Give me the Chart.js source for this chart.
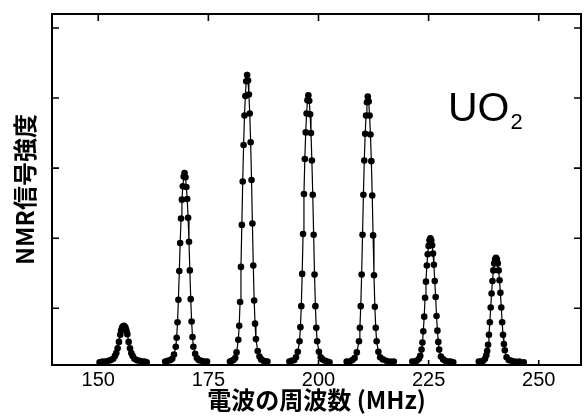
<!DOCTYPE html>
<html><head><meta charset="utf-8">
<script src="https://cdn.jsdelivr.net/npm/chart.js@4"></script>
<style>html,body{margin:0;padding:0;background:#fff}</style>
</head><body>
<canvas id="c" width="585" height="416"></canvas>
<script>
// ---- data ----
const xTicks = [150, 175, 200, 225, 250];
const yTicks = [0.77, 1.77, 2.77, 3.77, 4.77];
const xLabel = "電波の周波数 (MHz)";
const yLabel = "NMR信号強度";
const sampleLabel = "UO";
const sampleSub = "2";

const peak1Freq = [150.3,151.0,151.7,152.3,152.9,153.4,153.8,154.1,154.4,154.7,155.0,155.2,155.4,155.6,155.8,156.0,156.2,156.4,156.6,156.9,157.2,157.5,157.8,158.2,158.7,159.3,159.9,160.5,161.0];
const peak1Int  = [0.00,0.01,0.01,0.02,0.03,0.05,0.09,0.13,0.20,0.29,0.39,0.45,0.49,0.51,0.52,0.51,0.49,0.45,0.40,0.29,0.20,0.13,0.09,0.05,0.03,0.02,0.01,0.01,0.00];

const peak2Freq = [165.2,165.8,166.4,166.8,167.2,167.6,167.8,168.0,168.2,168.4,168.6,168.8,169.0,169.2,169.4,169.6,169.8,170.0,170.2,170.4,170.6,170.8,171.0,171.2,171.4,171.6,172.0,172.4,172.8,173.4,174.0,174.7];
const peak2Int  = [0.01,0.02,0.03,0.05,0.11,0.22,0.35,0.57,0.89,1.30,1.70,2.05,2.32,2.51,2.65,2.70,2.64,2.50,2.33,2.06,1.72,1.31,0.90,0.58,0.36,0.22,0.12,0.06,0.03,0.02,0.01,0.01];

const peak3Freq = [179.9,180.3,180.7,181.1,181.4,181.8,182.0,182.2,182.4,182.6,182.8,183.0,183.2,183.4,183.6,183.8,184.0,184.2,184.4,184.6,184.8,185.0,185.2,185.4,185.6,185.8,186.2,186.6,187.0,187.5,188.0,188.4];
const peak3Int  = [0.01,0.02,0.03,0.06,0.14,0.32,0.52,0.86,1.36,1.96,2.58,3.10,3.52,3.80,4.01,4.10,4.02,3.82,3.55,3.14,2.60,1.98,1.38,0.88,0.55,0.33,0.16,0.08,0.04,0.02,0.01,0.01];

const peak4Freq = [193.4,193.9,194.5,194.9,195.3,195.7,195.9,196.1,196.3,196.5,196.7,196.9,197.1,197.3,197.5,197.7,197.9,198.1,198.3,198.5,198.7,198.9,199.1,199.3,199.5,199.7,200.1,200.5,200.9,201.5,202.0,202.5];
const peak4Int  = [0.01,0.02,0.03,0.07,0.15,0.30,0.50,0.80,1.26,1.83,2.40,2.90,3.28,3.55,3.74,3.81,3.73,3.54,3.27,2.88,2.39,1.82,1.25,0.80,0.49,0.30,0.15,0.07,0.04,0.02,0.01,0.00];

const peak5Freq = [206.4,207.0,207.7,208.2,208.7,209.2,209.4,209.6,209.8,210.0,210.2,210.4,210.6,210.8,211.0,211.2,211.4,211.6,211.8,212.0,212.2,212.4,212.6,212.8,213.0,213.2,213.6,214.0,214.6,215.4,216.3,217.1];
const peak5Int  = [0.01,0.01,0.03,0.06,0.14,0.30,0.49,0.80,1.25,1.82,2.39,2.88,3.26,3.52,3.71,3.79,3.72,3.52,3.25,2.87,2.38,1.81,1.24,0.79,0.49,0.30,0.15,0.07,0.04,0.02,0.01,0.01];

const peak6Freq = [221.3,221.8,222.3,222.8,223.1,223.4,223.6,223.8,224.0,224.2,224.4,224.6,224.8,225.0,225.2,225.4,225.6,225.8,226.0,226.2,226.4,226.6,226.8,227.0,227.2,227.4,227.8,228.3,228.8,229.4,230.0,230.6];
const peak6Int  = [0.01,0.01,0.02,0.05,0.09,0.18,0.28,0.44,0.65,0.92,1.15,1.38,1.54,1.66,1.74,1.77,1.74,1.67,1.55,1.39,1.16,0.93,0.66,0.45,0.29,0.18,0.08,0.04,0.02,0.01,0.01,0.00];

const peak7Freq = [236.4,236.9,237.4,237.8,238.1,238.3,238.5,238.7,238.9,239.1,239.3,239.5,239.7,239.9,240.1,240.3,240.5,240.7,240.9,241.1,241.3,241.5,241.7,241.9,242.1,242.3,242.7,243.2,243.8,244.6,245.6,246.6];
const peak7Int  = [0.01,0.01,0.02,0.05,0.10,0.16,0.25,0.39,0.57,0.78,0.98,1.16,1.31,1.41,1.47,1.49,1.47,1.41,1.31,1.17,0.99,0.78,0.57,0.39,0.26,0.17,0.07,0.03,0.02,0.01,0.01,0.00];

const peakFreqs = [peak1Freq, peak2Freq, peak3Freq, peak4Freq, peak5Freq, peak6Freq, peak7Freq];
const peakInts  = [peak1Int, peak2Int, peak3Int, peak4Int, peak5Int, peak6Int, peak7Int];

// ---- chart ----
const latin = "'Liberation Sans', Arial, 'Noto Sans CJK JP', sans-serif";
const cjk = "'Noto Sans CJK JP', 'Liberation Sans', sans-serif";

const datasets = peakFreqs.map((fs, k) => ({
  data: fs.map((f, i) => ({x: f, y: peakInts[k][i]})),
  showLine: true,
  borderColor: '#000',
  borderWidth: 1.2,
  backgroundColor: '#000',
  pointBackgroundColor: '#000',
  pointBorderWidth: 0,
  pointRadius: 3.3,
  tension: 0
}));

const framePlugin = {
  id: 'frame',
  afterDatasetsDraw(chart) {
    const {ctx, chartArea: a, scales: {x, y}} = chart;
    ctx.save();
    ctx.strokeStyle = '#000';
    ctx.lineWidth = 2;
    ctx.strokeRect(a.left, a.top, a.right - a.left, a.bottom - a.top);
    ctx.lineWidth = 1.6;
    ctx.beginPath();
    x.ticks.forEach(t => {
      const px = x.getPixelForValue(t.value);
      ctx.moveTo(px, a.top); ctx.lineTo(px, a.top + 7);
      ctx.moveTo(px, a.bottom); ctx.lineTo(px, a.bottom - 5);
    });
    y.ticks.forEach(t => {
      const py = y.getPixelForValue(t.value);
      ctx.moveTo(a.left, py); ctx.lineTo(a.left + 7, py);
      ctx.moveTo(a.right, py); ctx.lineTo(a.right - 7, py);
    });
    ctx.stroke();
    // sample label
    ctx.fillStyle = '#000';
    ctx.textBaseline = 'alphabetic';
    ctx.font = "41px " + latin;
    ctx.fillText(sampleLabel, 448, 121);
    const w = ctx.measureText(sampleLabel).width;
    ctx.font = "22px " + latin;
    ctx.fillText(sampleSub, 448 + w + 1, 129);
    ctx.restore();
  }
};

new Chart(document.getElementById('c'), {
  type: 'scatter',
  data: {datasets},
  plugins: [framePlugin],
  options: {
    responsive: false,
    animation: false,
    devicePixelRatio: 1,
    layout: {padding: {top: 14, right: 3, left: 0, bottom: 0}},
    plugins: {legend: {display: false}, tooltip: {enabled: false}},
    scales: {
      x: {
        type: 'linear', min: 139.5, max: 259.6,
        afterBuildTicks: s => { s.ticks = xTicks.map(v => ({value: v})); },
        afterFit: s => { s.height = 51; },
        grid: {display: false, drawTicks: false},
        border: {display: false},
        ticks: {color: '#000', padding: 5, font: {family: latin, size: 20, lineHeight: 1.05}},
        title: {display: true, text: xLabel, color: '#000',
                font: {family: cjk, size: 24, weight: 'bold', lineHeight: 1}, padding: {top: 0, bottom: 4}}
      },
      y: {
        type: 'linear', min: -0.04, max: 4.97,
        afterBuildTicks: s => { s.ticks = yTicks.map(v => ({value: v})); },
        afterFit: s => { s.width = 52; },
        grid: {display: false, drawTicks: false},
        border: {display: false},
        ticks: {display: false},
        title: {display: true, text: yLabel, color: '#000',
                font: {family: cjk, size: 24, weight: 'bold', lineHeight: 1.2}, padding: {top: 10, bottom: 14}}
      }
    }
  }
});
</script>
</body></html>
